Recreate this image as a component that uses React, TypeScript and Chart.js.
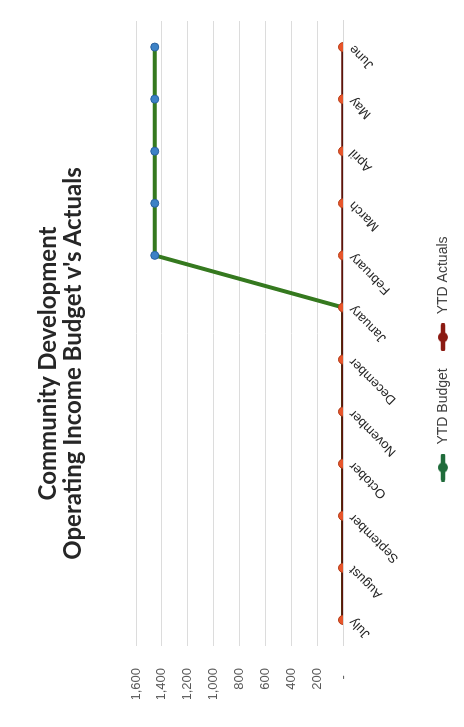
import React, { useEffect, useRef } from "react";
import { Chart, registerables } from "chart.js";

Chart.register(...registerables);

const titleLines = ["Community Development", "Operating Income Budget v's Actuals"];
const months = [
  "July", "August", "September", "October", "November", "December",
  "January", "February", "March", "April", "May", "June",
];
const ytdBudget = [0, 0, 0, 0, 0, 0, 0, 1455, 1455, 1455, 1455, 1455];
const ytdActuals = [0, 0, 0, 0, 0, 0, 0, 0, 0, 0, 0, 0];
const seriesNames = ["YTD Budget", "YTD Actuals"];
const valueMin = 0;
const valueMax = 1600;
const valueStep = 200;

const W = 727;
const H = 464;
const SANS = "'Liberation Sans', Arial, sans-serif";

function makeMarker(color: string): HTMLCanvasElement {
  const c = document.createElement("canvas");
  c.width = 28;
  c.height = 12;
  const ctx = c.getContext("2d")!;
  ctx.strokeStyle = color;
  ctx.lineWidth = 4.5;
  ctx.lineCap = "round";
  ctx.beginPath();
  ctx.moveTo(2, 6);
  ctx.lineTo(26, 6);
  ctx.stroke();
  ctx.fillStyle = color;
  ctx.beginPath();
  ctx.arc(14, 6, 5, 0, Math.PI * 2);
  ctx.fill();
  return c;
}

export default function App() {
  const ref = useRef<HTMLCanvasElement | null>(null);

  useEffect(() => {
    if (!ref.current) return;
    const markers = [makeMarker("#1f6b3a"), makeMarker("#8b1a12")];
    const chart = new Chart(ref.current, {
      type: "line",
      data: {
        labels: months,
        datasets: [
          {
            label: seriesNames[0],
            data: ytdBudget,
            order: 1,
            borderColor: "#35791f",
            borderWidth: 4,
            pointRadius: 4,
            pointBackgroundColor: "#3d82c6",
            pointBorderColor: "#2a62a0",
            pointBorderWidth: 1,
            tension: 0,
          },
          {
            label: seriesNames[1],
            data: ytdActuals,
            order: 0,
            borderColor: "#5e130a",
            borderWidth: 3.5,
            pointRadius: 4.5,
            pointBackgroundColor: "#e8552a",
            pointBorderColor: "#b8401c",
            pointBorderWidth: 1,
            tension: 0,
          },
        ],
      },
      options: {
        responsive: false,
        animation: false,
        layout: { padding: { left: 28, right: 21, top: 136, bottom: 4 } },
        plugins: {
          title: { display: false },
          tooltip: { enabled: false },
          legend: {
            position: "bottom",
            labels: {
              usePointStyle: true,
              pointStyleWidth: 32,
              padding: 15,
              color: "#404040",
              font: { family: SANS, size: 14 },
              generateLabels: (ch: any) => {
                const items = Chart.defaults.plugins.legend.labels.generateLabels(ch);
                items.sort((a: any, b: any) => a.datasetIndex - b.datasetIndex);
                items.forEach((it: any) => {
                  it.pointStyle = markers[it.datasetIndex];
                  it.fontColor = "#404040";
                });
                return items;
              },
            },
          },
        },
        scales: {
          x: {
            offset: true,
            grid: { display: false, drawTicks: false },
            border: { display: true, color: "#d9d9d9" },
            ticks: {
              minRotation: 45,
              maxRotation: 45,
              padding: 3,
              color: "#262626",
              font: { family: SANS, size: 13 },
            },
            afterFit: (s: any) => {
              s.height = 78;
            },
          },
          y: {
            min: valueMin,
            max: valueMax,
            grid: { color: "#dcdcdc", drawTicks: false },
            border: { display: false },
            ticks: {
              stepSize: valueStep,
              padding: 22,
              color: "#595959",
              font: { family: SANS, size: 13 },
              callback: (v: any) => (Number(v) === 0 ? "-  " : Number(v).toLocaleString("en-US")),
            },
            afterFit: (s: any) => {
              s.width = 53;
            },
          },
        },
      },
    });
    return () => chart.destroy();
  }, []);

  return (
    <div style={{ position: "fixed", left: 0, top: 0, width: 464, height: 727, background: "#fff", overflow: "hidden" }}>
      <div
        style={{
          position: "absolute",
          left: 0,
          top: 0,
          width: W,
          height: H,
          transformOrigin: "0 0",
          transform: `translate(0px, ${W}px) rotate(-90deg)`,
        }}
      >
        <canvas ref={ref} width={W} height={H} style={{ position: "absolute", left: 0, top: 0, width: W, height: H }} />
        <div
          style={{
            position: "absolute",
            left: 0,
            top: 34,
            width: W,
            textAlign: "center",
            fontFamily: "Lato, 'Open Sans', sans-serif",
            fontWeight: 700,
            fontSize: 24,
            lineHeight: "25px",
            color: "#262626",
          }}
        >
          {titleLines.map((t, i) => (
            <div key={i}>{t}</div>
          ))}
        </div>
      </div>
    </div>
  );
}
